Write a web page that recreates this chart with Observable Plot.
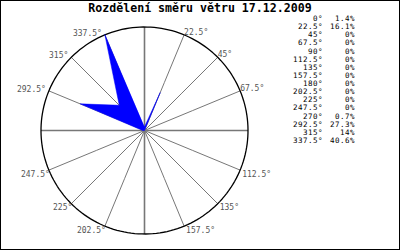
<!DOCTYPE html>
<html><head><meta charset="utf-8">
<script src="https://cdn.jsdelivr.net/npm/d3@7"></script>
<script src="https://cdn.jsdelivr.net/npm/@observablehq/plot@0.6"></script>
<style>
html,body{margin:0;padding:0;background:#fff}
#chart{position:relative;width:400px;height:250px;overflow:hidden;background:#fff}
#chart svg{position:absolute;left:0;top:0}
#title{position:absolute;left:0;top:1px;width:400px;text-align:center;font:bold 11.6px "DejaVu Sans Mono";color:#000;line-height:14px}
#legend{position:absolute;left:280px;top:0;font:7.5px "DejaVu Sans Mono";color:#000;letter-spacing:0.5px}
#legend .row{position:absolute;left:0;width:80px;height:8px;line-height:8px;white-space:nowrap}
#legend .a{display:inline-block;width:43px;text-align:right}
#legend .v{display:inline-block;width:32px;text-align:right}
#frame{position:absolute;left:0;top:0;width:400px;height:250px;box-sizing:border-box;border:1px solid #000;pointer-events:none}
</style></head>
<body>
<div id="chart"><div id="title"></div><div id="legend"></div><div id="frame"></div></div>
<script>
const title = "Rozdělení směru větru 17.12.2009";
const directions = [0, 22.5, 45, 67.5, 90, 112.5, 135, 157.5, 180, 202.5, 225, 247.5, 270, 292.5, 315, 337.5];
const directionLabels = ["0°", "22.5°", "45°", "67.5°", "90°", "112.5°", "135°", "157.5°", "180°", "202.5°", "225°", "247.5°", "270°", "292.5°", "315°", "337.5°"];
const frequencies = [1.4, 16.1, 0, 0, 0, 0, 0, 0, 0, 0, 0, 0, 0.7, 27.3, 14, 40.6];
const frequencyLabels = ["1.4%", "16.1%", "0%", "0%", "0%", "0%", "0%", "0%", "0%", "0%", "0%", "0%", "0.7%", "27.3%", "14%", "40.6%"];

const rows = directions.map((a, i) => ({angle: a, label: directionLabels[i], value: frequencies[i]}));
const R = d3.max(frequencies);
const lon = d => 180 - d.angle;
const rim = 90 - R;
const outline = d3.geoCircle().center([0, 90]).radius(R)();

function labels(filter, opts) {
  return Plot.text(rows.filter(filter), Object.assign({x: lon, y: rim, text: "label", fill: "#555", fontSize: 8}, opts));
}

const plot = Plot.plot({
  width: 400, height: 250,
  marginLeft: 40.5, marginRight: 152.5, marginTop: 26.5, marginBottom: 16.5,
  projection: {type: "azimuthal-equidistant", rotate: [0, -90], domain: outline, inset: 0},
  style: {background: "transparent", fontFamily: "DejaVu Sans Mono", fontSize: "8px"},
  marks: [
    Plot.link(rows, {x1: lon, y1: 90, x2: lon, y2: rim, stroke: "#777", strokeWidth: d => d.angle % 90 === 0 ? 1.6 : 1}),
    Plot.geo(outline, {stroke: "#000", strokeWidth: 1.3, fill: "none"}),
    Plot.line(rows, {x: lon, y: d => 90 - d.value, curve: "linear-closed", fill: "#0000ff", stroke: "#0000ff", strokeWidth: 0.5}),
    labels(d => d.angle === 0, {textAnchor: "middle", lineAnchor: "bottom", dy: -2}),
    labels(d => d.angle > 0 && d.angle < 90, {textAnchor: "start", lineAnchor: "bottom", dy: 0, dx: 0}),
    labels(d => d.angle === 90, {textAnchor: "start", lineAnchor: "middle", dx: 4}),
    labels(d => d.angle > 90 && d.angle < 180, {textAnchor: "start", lineAnchor: "top", dx: 2, dy: 1}),
    labels(d => d.angle === 180, {textAnchor: "middle", lineAnchor: "top", dy: 1}),
    labels(d => d.angle > 180 && d.angle < 270, {textAnchor: "end", lineAnchor: "top", dx: 1, dy: 1}),
    labels(d => d.angle === 270, {textAnchor: "end", lineAnchor: "middle", dx: -2}),
    labels(d => d.angle > 270, {textAnchor: "end", lineAnchor: "bottom", dx: -3, dy: 1})
  ]
});
const chart = document.getElementById("chart");
chart.insertBefore(plot, chart.firstChild);
document.getElementById("title").textContent = title;
const legend = d3.select("#legend");
directions.forEach((a, i) => {
  const row = legend.append("div").attr("class", "row").style("top", (15 + i * 8.13) + "px");
  row.append("span").attr("class", "a").text(directionLabels[i]);
  row.append("span").attr("class", "v").text(frequencyLabels[i]);
});
</script>
</body></html>
